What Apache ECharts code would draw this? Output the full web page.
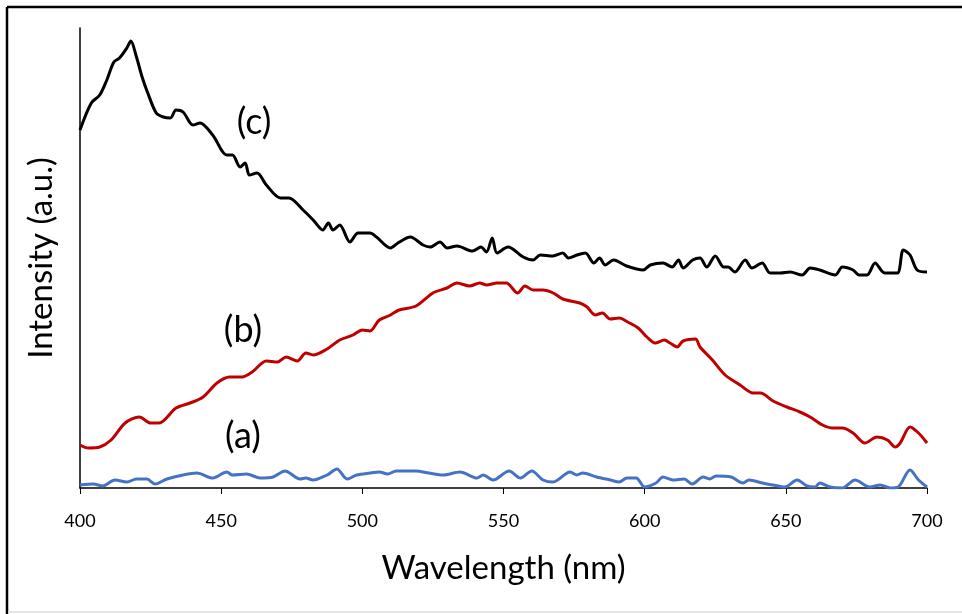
<!DOCTYPE html>
<html>
<head>
<meta charset="utf-8">
<script src="https://cdn.jsdelivr.net/npm/echarts@6/dist/echarts.min.js"></script>
<style>
html,body{margin:0;padding:0;background:#fff;}
#chart{width:962px;height:614px;}
</style>
</head>
<body>
<div id="chart"></div>
<script>
var xTicks = [400, 450, 500, 550, 600, 650, 700];

var seriesC = [[400,358],[404,385],[407,393],[409.5,408],[412,426],[414,430],[416.6,440],[418,447],[420,431],[422,411],[424,395],[427,375],[429.5,371],[432,370],[434,378],[436.5,376],[440,363],[442.5,365],[447,353],[452,333],[454,333],[456.7,321],[458.5,325],[460,313],[462.7,315],[466,303],[471,290],[474,290],[479,278],[482.6,268],[486,258],[488,265],[489.6,258],[492,263],[495.6,246],[498.5,255],[502.7,255],[505,251],[510,240],[512.6,245],[517,251],[521.5,243],[524,241],[527.5,246],[530,240],[533.5,242],[539,237],[542,241],[544,236],[546,250],[547.7,235],[551.6,241],[557,231],[560.5,228],[563,233],[567.5,232],[571,235],[573,230],[576,233],[579,235],[582,225],[584,230],[586,223],[589,228],[593.6,222],[599.5,218],[602,223],[606.5,225],[609.7,221],[612,228],[613.6,220],[617,228],[619.6,230],[622,221],[625,232],[628,221],[629.5,221],[632,216],[635.6,228],[638,220],[641.6,225],[644.4,215],[648,215],[651.5,216],[655.8,213],[658.6,220],[662,218],[667.5,213],[670,221],[673.8,218],[676,213],[678.8,213],[681.6,225],[685,215],[689.5,215],[691.6,238],[694,233],[696.5,218],[700,216]];

var seriesB = [[400,43],[403,40],[407,41],[411,48],[416,65],[421,71],[425,65],[428,65],[434,80],[439,85],[443.6,91],[448.5,105],[453,111],[457.4,111],[461,116],[466,127],[470,126],[473,131],[477,127],[480,135],[482.6,133],[487.5,139],[492,148],[496.7,153],[500,158],[502.7,157],[506,168],[510,173],[513,178],[519,182],[525,195],[530,200],[533.5,205],[538,202],[541.6,205],[544,203],[547.7,205],[551,205],[555,195],[557.6,202],[560.5,198],[564,198],[567.6,195],[571,189],[577,185],[579.6,181],[582.5,173],[585,175],[587.8,169],[591,170],[594,166],[597.7,160],[600.8,151],[603.7,145],[607,148],[609,145],[611.5,141],[613.6,147],[618,149],[619.6,141],[624,128],[628.5,113],[633.8,103],[638.4,95],[641,95],[645.5,87],[650.4,81],[655,76],[658.6,71],[663,63],[666.7,60],[670,60],[673.8,55],[678,45],[682.3,51],[686,48],[688.7,41],[690.5,45],[694,61],[697,55],[700,45]];

var seriesA = [[400,3],[404.7,4],[408,2],[412.4,8],[416.6,6],[420,9],[423.7,9],[426.6,4],[430.8,9],[436.5,13],[441.4,15],[447,10],[452,16],[454,13],[459,14],[463.8,10],[468.4,11],[472.6,17],[478,9],[480,10],[482.5,8],[487.5,13],[491,19],[494.6,9],[498,13],[502.7,15],[506,16],[509,14],[512,17],[519,17],[523.5,15],[528.6,13],[534.6,16],[540.6,10],[542.8,13],[546.3,8],[552,17],[556,10],[560,17],[564,8],[567.6,6],[573.6,16],[576,13],[578,15],[583,11],[587.8,8],[591,6],[593.7,10],[597,10],[600,1],[604,5],[606.5,11],[610,8],[614,9],[616.8,4],[620.7,11],[623,9],[625.3,12],[630.6,11],[634.8,5],[637,8],[641.6,5],[645.5,3],[649.7,1],[654,8],[657.5,2],[660.4,1],[662,5],[665.7,1],[670,0],[674.5,8],[679.8,1],[683.4,3],[687,0],[689.8,1],[694,18],[697,8],[700,1]];

var seriesLabels = ['(a)', '(b)', '(c)'];
var xName = 'Wavelength (nm)';
var yName = 'Intensity (a.u.)';

var font = 'Lato, "Open Sans", sans-serif';
var chart = echarts.init(document.getElementById('chart'), null, {renderer: 'canvas'});

function lineSeries(name, data, color) {
  return {
    name: name, type: 'line', data: data, showSymbol: false, smooth: 0.3,
    lineStyle: {color: color, width: 3}, itemStyle: {color: color},
    silent: true, animation: false
  };
}

chart.setOption({
  animation: false,
  backgroundColor: '#fff',
  grid: {left: 80, right: 35, top: 28, bottom: 126},
  xAxis: {
    type: 'value', min: 400, max: 700, interval: 50,
    name: xName, nameLocation: 'middle', nameGap: 64,
    nameTextStyle: {fontFamily: font, fontSize: 33, color: '#000'},
    axisLine: {lineStyle: {color: '#000', width: 1.5}},
    axisTick: {show: true, length: 6, lineStyle: {color: '#000'}},
    axisLabel: {fontFamily: font, fontSize: 18, color: '#000', margin: 24,
      formatter: function (v) { return xTicks.indexOf(v) >= 0 ? String(v) : ''; }},
    splitLine: {show: false}
  },
  yAxis: {
    type: 'value', min: 0, max: 460,
    name: yName, nameLocation: 'middle', nameGap: 22, nameRotate: 90,
    nameTextStyle: {fontFamily: font, fontSize: 33, color: '#000'},
    axisLine: {show: true, lineStyle: {color: '#000', width: 1.5}},
    axisTick: {show: false},
    axisLabel: {show: false},
    splitLine: {show: false}
  },
  series: [
    lineSeries(seriesLabels[0], seriesA, '#4472C4'),
    lineSeries(seriesLabels[1], seriesB, '#C00000'),
    lineSeries(seriesLabels[2], seriesC, '#000000')
  ],
  graphic: [
    {type: 'text', x: 254, y: 122, style: {text: seriesLabels[2], font: '36px ' + font, fill: '#000', textAlign: 'center', textVerticalAlign: 'middle'}},
    {type: 'text', x: 243, y: 330, style: {text: seriesLabels[1], font: '36px ' + font, fill: '#000', textAlign: 'center', textVerticalAlign: 'middle'}},
    {type: 'text', x: 243, y: 436, style: {text: seriesLabels[0], font: '36px ' + font, fill: '#000', textAlign: 'center', textVerticalAlign: 'middle'}},
    {type: 'line', shape: {x1: 7, y1: 7, x2: 962, y2: 7}, style: {stroke: '#000', lineWidth: 2.5}},
    {type: 'line', shape: {x1: 7, y1: 7, x2: 7, y2: 614}, style: {stroke: '#000', lineWidth: 2.5}},
    {type: 'line', shape: {x1: 8, y1: 612, x2: 962, y2: 612}, style: {stroke: '#ddd', lineWidth: 1.5}}
  ]
});
</script>
</body>
</html>
